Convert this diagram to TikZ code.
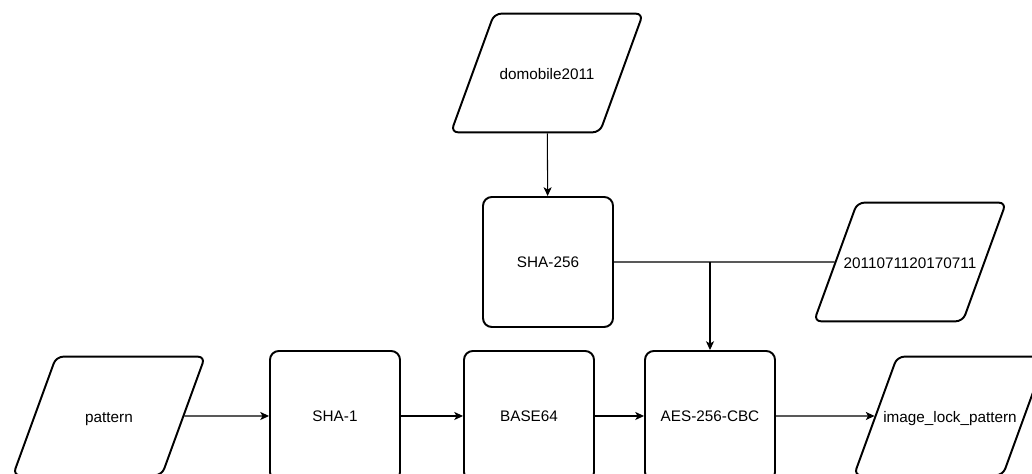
\documentclass[tikz,border=0pt]{standalone}
\usepackage{fontspec}
\setmainfont{Liberation Sans}
\usetikzlibrary{arrows.meta,shapes.geometric}
\newcommand{\iolabel}[1]{\makebox[2cm]{#1}}

\begin{document}
\begin{tikzpicture}[>={Stealth[length=5pt,width=4.6pt,inset=1.3pt]}, font=\fontsize{8.7}{10}\selectfont,
        proc/.style={draw, line width=1.1pt, rounded corners=5pt, minimum width=2.6cm, minimum height=2.6cm},
        data/.style={draw, line width=1.1pt, rounded corners=4pt, trapezium, trapezium left angle=70,
            trapezium right angle=110, trapezium stretches body=true, minimum width=3.84cm,
            text height=1.6ex, text depth=0.3ex, inner xsep=0pt, inner ysep=1.01cm},
        link/.style={line width=0.6pt}]
        \useasboundingbox (0,0) rectangle (20.64,9.48);

        % top branch
        \node[data] (key) at (10.94,8.02) {\iolabel{domobile2011}};
        \node[proc] (sha256) at (10.96,4.24) {SHA-256};
        \node[data] (iv) at (18.2,4.24) {\iolabel{2011071120170711}};

        % main chain
        \node[data] (pat) at (2.18,1.16) {\iolabel{pattern}};
        \node[proc] (sha1) at (6.7,1.16) {SHA-1};
        \node[proc] (b64) at (10.58,1.16) {BASE64};
        \node[proc] (aes) at (14.2,1.16) {AES-256-CBC};
        \node[data] (img) at (19.0,1.16) {\iolabel{image\_lock\_pattern}};

        \draw[link,->] (key) -- (sha256);
        \draw[link] (sha256) -- (iv);
        \draw[link,->] (sha256 -| aes) -- (aes);

        \draw[link,->] (pat) -- (sha1);
        \draw[link,->] (sha1) -- (b64);
        \draw[link,->] (b64) -- (aes);
        \draw[link,->] (aes) -- (img);
    \end{tikzpicture}
\end{document}
